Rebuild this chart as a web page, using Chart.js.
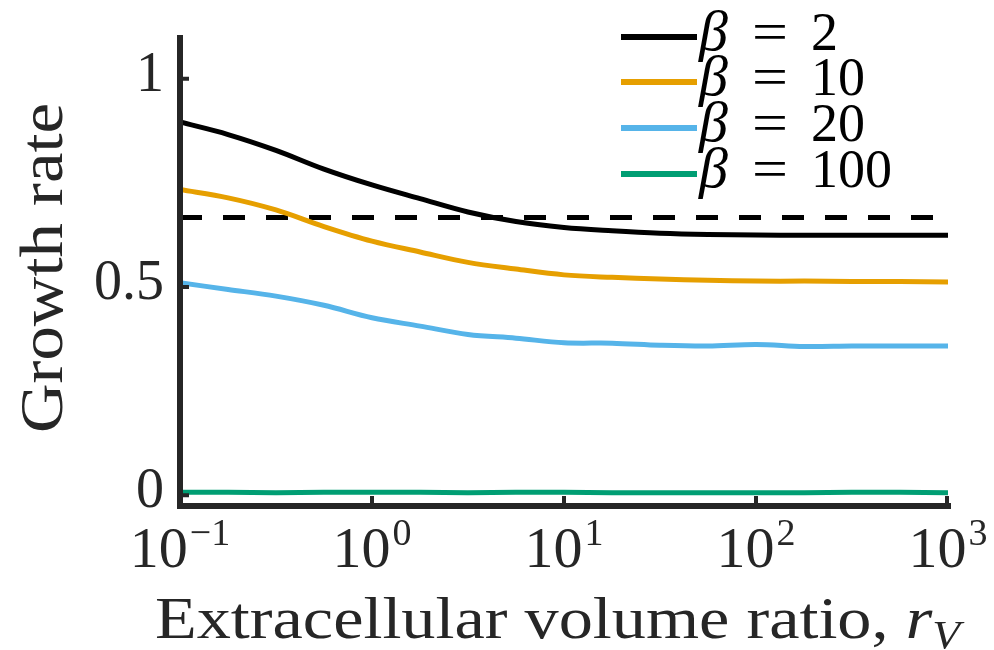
<!DOCTYPE html>
<html>
<head>
<meta charset="utf-8">
<script src="https://cdn.jsdelivr.net/npm/chart.js@4/dist/chart.umd.min.js"></script>
<style>
  html, body { margin: 0; padding: 0; background: #fff; }
  #wrap { width: 994px; height: 650px; }
</style>
</head>
<body>
<div id="wrap"><canvas id="growthChart" width="994" height="650"></canvas></div>
<script>
// extracellular volume ratio r_V (log spaced)
var rV = [0.1, 0.178, 0.316, 0.562, 1, 1.78, 3.16, 5.62, 10, 17.8, 31.6, 56.2, 100, 178, 316, 562, 1000];

var beta2   = [0.896, 0.866, 0.828, 0.783, 0.745, 0.712, 0.680, 0.657, 0.643, 0.635, 0.629, 0.626, 0.625, 0.624, 0.624, 0.624, 0.624];
var beta10  = [0.734, 0.714, 0.685, 0.645, 0.610, 0.584, 0.559, 0.543, 0.529, 0.523, 0.519, 0.516, 0.514, 0.514, 0.513, 0.513, 0.512];
var beta20  = [0.510, 0.494, 0.478, 0.456, 0.426, 0.406, 0.386, 0.377, 0.366, 0.365, 0.360, 0.358, 0.362, 0.357, 0.358, 0.358, 0.358];
var beta100 = [0.007, 0.007, 0.006, 0.007, 0.007, 0.007, 0.006, 0.007, 0.007, 0.006, 0.006, 0.006, 0.006, 0.006, 0.007, 0.007, 0.006];

var refLevel = 0.667;   // dashed reference line

var betaValues = ['2', '10', '20', '100'];
var colors = ['#000000', '#E69F00', '#56B4E9', '#009E73'];

var xTicks = [0.1, 1, 10, 100, 1000];
var xTickExp = ['\u22121', '0', '1', '2', '3'];
var yTicks = [0, 0.5, 1];
var yTickLabels = ['0', '0.5', '1'];

var FONT = '"Liberation Serif", "Times New Roman", serif';

function series(vals) {
    return rV.map(function (x, i) { return { x: x, y: vals[i] }; });
}

var datasets = [beta2, beta10, beta20, beta100].map(function (vals, i) {
    return {
        label: betaValues[i],
        data: series(vals),
        borderColor: colors[i],
        borderWidth: 5,
        pointRadius: 0,
        fill: false,
        tension: 0.35
    };
});
datasets.push({
    label: '',
    data: [{ x: rV[0], y: refLevel }, { x: rV[rV.length - 1], y: refLevel }],
    borderColor: '#000000',
    borderWidth: 5,
    borderDash: [22, 21],
    pointRadius: 0,
    fill: false
});

// axes, tick labels, titles and legend, drawn in a MATLAB-like style
var decorations = {
    id: 'decorations',
    afterDatasetsDraw: function (chart) {
        var ctx = chart.ctx, a = chart.chartArea;
        var xs = chart.scales.x, ys = chart.scales.y;
        ctx.save();

        // axis lines
        ctx.strokeStyle = '#262626';
        ctx.lineWidth = 6;
        ctx.beginPath();
        ctx.moveTo(a.left, a.top);
        ctx.lineTo(a.left, a.bottom + 3);
        ctx.moveTo(a.left - 3, a.bottom);
        ctx.lineTo(a.right + 3, a.bottom);
        ctx.stroke();

        // inward ticks
        ctx.lineWidth = 4;
        ctx.beginPath();
        yTicks.forEach(function (v) {
            var py = ys.getPixelForValue(v);
            ctx.moveTo(a.left, py);
            ctx.lineTo(a.left + 9, py);
        });
        xTicks.forEach(function (v, i) {
            if (i === 0) return;
            var px = xs.getPixelForValue(v);
            if (i === xTicks.length - 1) px -= 1;
            ctx.moveTo(px, a.bottom);
            ctx.lineTo(px, a.bottom - 10);
        });
        ctx.stroke();

        ctx.fillStyle = '#262626';
        ctx.textBaseline = 'alphabetic';

        // y tick labels
        ctx.font = '56px ' + FONT;
        ctx.textAlign = 'right';
        yTicks.forEach(function (v, i) {
            ctx.fillText(yTickLabels[i], 164, ys.getPixelForValue(v) + 12);
        });

        // x tick labels: 10 with superscript exponent
        ctx.textAlign = 'left';
        xTicks.forEach(function (v, i) {
            var px = xs.getPixelForValue(v);
            ctx.font = '58px ' + FONT;
            var wBase = ctx.measureText('10').width;
            ctx.font = '38px ' + FONT;
            var wExp = ctx.measureText(xTickExp[i]).width;
            var x0 = px - (wBase + wExp + 2) / 2;
            ctx.font = '58px ' + FONT;
            ctx.fillText('10', x0, 567);
            ctx.font = '38px ' + FONT;
            ctx.fillText(xTickExp[i], x0 + wBase + 2, 545);
        });

        // x axis title
        ctx.font = '60px ' + FONT;
        var t1 = 'Extracellular volume ratio, ';
        var w1 = ctx.measureText(t1).width;
        ctx.font = 'italic 60px ' + FONT;
        var w2 = ctx.measureText('r').width;
        ctx.font = 'italic 40px ' + FONT;
        var w3 = ctx.measureText('V').width;
        var total = w1 + w2 + w3;
        var sx = 805 / total;
        ctx.save();
        ctx.translate(155, 638);
        ctx.scale(sx, 1);
        ctx.font = '60px ' + FONT;
        ctx.fillText(t1, 0, 0);
        ctx.font = 'italic 60px ' + FONT;
        ctx.fillText('r', w1, 0);
        ctx.font = 'italic 40px ' + FONT;
        ctx.fillText('V', w1 + w2, 10);
        ctx.restore();

        // y axis title
        ctx.save();
        ctx.translate(62, 268);
        ctx.rotate(-Math.PI / 2);
        ctx.font = '62px ' + FONT;
        ctx.textAlign = 'center';
        var wy = ctx.measureText('Growth rate').width;
        ctx.scale(330 / wy, 1);
        ctx.fillText('Growth rate', 0, 0);
        ctx.restore();

        // legend
        var rowY = [37, 82, 128, 174];
        chart.data.datasets.slice(0, 4).forEach(function (ds, i) {
            var y = rowY[i];
            ctx.strokeStyle = ds.borderColor;
            ctx.lineWidth = 6;
            ctx.beginPath();
            ctx.moveTo(621, y);
            ctx.lineTo(697, y);
            ctx.stroke();
            ctx.fillStyle = '#000';
            ctx.textAlign = 'left';
            ctx.font = 'italic 58px ' + FONT;
            ctx.fillText('\u03B2', 699, y + 13);
            ctx.font = '54px ' + FONT;
            ctx.save();
            ctx.translate(752, y + 13);
            ctx.scale(36 / ctx.measureText('=').width, 1);
            ctx.fillText('=', 0, 0);
            ctx.restore();
            ctx.fillText(ds.label, 811, y + 13);
        });

        ctx.restore();
    }
};

var ctx = document.getElementById('growthChart').getContext('2d');
var chart = new Chart(ctx, {
    type: 'line',
    data: { datasets: datasets },
    options: {
        responsive: false,
        animation: false,
        layout: { padding: { left: 180, right: 46, top: 35, bottom: 144 } },
        plugins: { legend: { display: false }, tooltip: { enabled: false } },
        scales: {
            x: { type: 'logarithmic', min: 0.1, max: 1000, display: false },
            y: { type: 'linear', min: -0.026, max: 1.105, display: false }
        }
    },
    plugins: [decorations]
});
</script>
</body>
</html>
